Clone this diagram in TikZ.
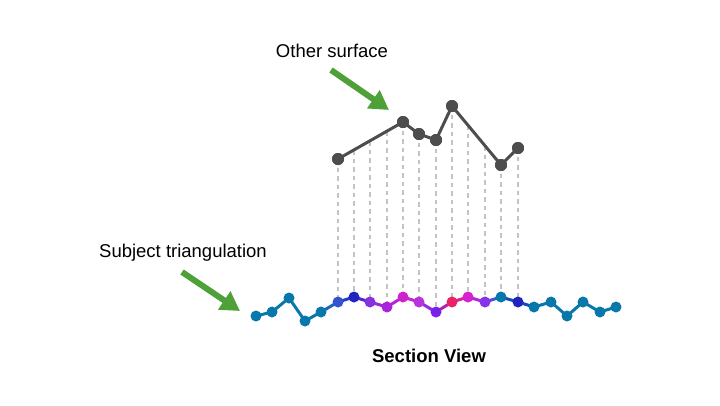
\documentclass[tikz,border=0pt]{standalone}
\usepackage{fontspec}
\setmainfont{Liberation Sans}
\usetikzlibrary{arrows.meta}
\definecolor{teal0}{RGB}{8,120,170}
\definecolor{grn}{RGB}{78,160,56}
\definecolor{topgray}{RGB}{77,77,77}
\definecolor{dashgray}{RGB}{195,195,195}
\colorlet{p1}{teal0}\colorlet{p2}{teal0}\colorlet{p3}{teal0}\colorlet{p4}{teal0}\colorlet{p5}{teal0}
\definecolor{p6}{RGB}{50,85,205}
\definecolor{p7}{RGB}{35,35,190}
\definecolor{p8}{RGB}{135,50,220}
\definecolor{p9}{RGB}{170,35,220}
\definecolor{p10}{RGB}{205,35,205}
\definecolor{p11}{RGB}{185,50,220}
\definecolor{p12}{RGB}{120,35,235}
\definecolor{p13}{RGB}{235,35,100}
\definecolor{p14}{RGB}{215,35,205}
\definecolor{p15}{RGB}{135,50,235}
\colorlet{p16}{teal0}
\definecolor{p17}{RGB}{35,35,190}
\colorlet{p18}{teal0}\colorlet{p19}{teal0}\colorlet{p20}{teal0}\colorlet{p21}{teal0}\colorlet{p22}{teal0}\colorlet{p23}{teal0}
\begin{document}
\begin{tikzpicture}[x=1pt,y=-1pt,
  tdot/.style={circle,fill=topgray,inner sep=0pt,minimum size=12pt},
  bdot/.style={circle,inner sep=0pt,minimum size=11pt},
  topline/.style={draw=topgray,line width=3pt},
  botline/.style={line width=3pt},
  proj/.style={draw=dashgray,line width=1.2pt,dash pattern=on 4.5pt off 4pt},
  greenarrow/.style={draw=grn,line width=6pt,-{Triangle[length=19pt,width=21pt]}},
  lbl/.style={font=\fontsize{18.5}{22}\selectfont,anchor=base,inner sep=0pt},
  bold/.style={font=\fontsize{18.5}{22}\selectfont\bfseries,anchor=base,inner sep=0pt}]
\useasboundingbox (0,0) rectangle (720,405);
\fill[white] (0,0) rectangle (720,405);

% bottom points coordinates
\foreach \i/\x/\y in {1/256/316,2/272/312,3/289/298,4/305/321,5/321/312,6/338/302,7/354/297,8/370/302,9/387/307,10/403/297,11/419/302,12/436/312,13/452/302,14/468/297,15/485/302,16/501/297,17/518/302,18/534/307,19/551/302,20/567/316,21/583/302,22/600/312,23/616/307}
  \coordinate (c\i) at (\x,\y);

% top surface
\node[tdot] (t1) at (338,159) {};
\node[tdot] (t2) at (403,122) {};
\node[tdot] (t3) at (419,134) {};
\node[tdot] (t4) at (436,140) {};
\node[tdot] (t5) at (452,106) {};
\node[tdot] (t6) at (501,165) {};
\node[tdot] (t7) at (518,148) {};

% projection points on top surface
\coordinate (u6) at (338,159);
\coordinate (u7) at (354,150);
\coordinate (u8) at (370,141);
\coordinate (u9) at (387,131);
\coordinate (u10) at (403,122);
\coordinate (u11) at (419,134);
\coordinate (u12) at (436,140);
\coordinate (u13) at (452,106);
\coordinate (u14) at (468,125);
\coordinate (u15) at (485,146);
\coordinate (u16) at (501,165);
\coordinate (u17) at (518,148);
\foreach \i in {6,...,17}
  \draw[proj] (u\i) -- (c\i);

\draw[topline] (t1.center) -- (t2.center) -- (t3.center) -- (t4.center) -- (t5.center) -- (t6.center) -- (t7.center);
\foreach \i in {1,...,7}
  \node[tdot] at (t\i) {};

% bottom line
\foreach \i [evaluate=\i as \j using int(\i+1)] in {1,...,22}
  \draw[botline,draw=p\i!50!p\j] (c\i) -- (c\j);
\foreach \i in {1,...,23}
  \node[bdot,fill=p\i] (b\i) at (c\i) {};

% labels
\node[lbl] (other) at (332,57) {Other surface};
\node[lbl] (subj) at (183,257) {Subject triangulation};
\node[bold] (sect) at (429,362) {Section View};

% arrows
\coordinate (a1s) at (331,70);
\coordinate (a1e) at (389,110);
\draw[greenarrow] (a1s) -- (a1e);
\coordinate (a2s) at (182,272);
\coordinate (a2e) at (240,311);
\draw[greenarrow] (a2s) -- (a2e);
\end{tikzpicture}
\end{document}
